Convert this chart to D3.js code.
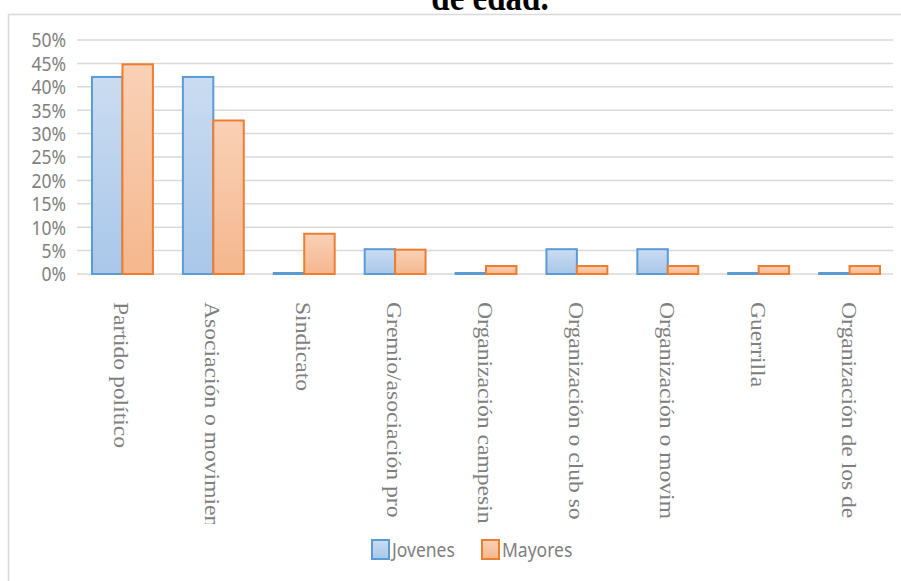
<!DOCTYPE html>
<html>
<head>
<meta charset="utf-8">
<script src="https://cdn.jsdelivr.net/npm/d3@7"></script>
<style>
	body { margin: 0; background: #fff; }
	svg { display: block; }
</style>
</head>
<body>
<div id="chart"></div>
<script>
const WIDTH = 901;
const HEIGHT = 581;
const PLOT = {left: 77, right: 893, top: 40, bottom: 274};
const STRETCH = 1.18; // the source picture is stretched vertically

// category labels are truncated in the source, kept as shown
const categories = [
	'Partido político',
	'Asociación o movimien',
	'Sindicato',
	'Gremio/asociación pro',
	'Organización campesin',
	'Organización o club so',
	'Organización o movim',
	'Guerrilla',
	'Organización de los de'
];
const jovenes = [0.421, 0.421, 0, 0.053, 0, 0.053, 0.053, 0, 0];
const mayores = [0.448, 0.328, 0.086, 0.052, 0.017, 0.017, 0.017, 0.017, 0.017];
const yTicks = [0, 0.05, 0.1, 0.15, 0.2, 0.25, 0.3, 0.35, 0.4, 0.45, 0.5];
const seriesNames = ['Jovenes', 'Mayores'];
const title = 'de edad.';

const series = [
	{name: seriesNames[0], values: jovenes, stroke: '#5b9bd5', top: '#cadcf1', bottom: '#a9c7ea'},
	{name: seriesNames[1], values: mayores, stroke: '#ed7d31', top: '#f9d1b6', bottom: '#f5b78e'}
];

const svg = d3.select('#chart').append('svg')
	.attr('width', WIDTH)
	.attr('height', HEIGHT);

// gradients for the bar fills
const defs = svg.append('defs');
series.forEach((s, i) => {
	let g = defs.append('linearGradient')
		.attr('id', `grad${i}`)
		.attr('x1', 0).attr('y1', 0).attr('x2', 0).attr('y2', 1);
	g.append('stop').attr('offset', '0%').attr('stop-color', s.top);
	g.append('stop').attr('offset', '100%').attr('stop-color', s.bottom);
});
defs.append('clipPath').attr('id', 'labelClip')
	.append('rect')
	.attr('x', 0).attr('y', 290)
	.attr('width', WIDTH).attr('height', 234);

// chart frame
svg.append('rect')
	.attr('x', 8.5).attr('y', 14.5)
	.attr('width', 900).attr('height', 580)
	.attr('fill', 'none')
	.attr('stroke', '#d9d9d9')
	.attr('stroke-width', 1.5);

// title (cut off at the top of the picture)
svg.append('text')
	.attr('transform', `translate(490, 10) scale(1, ${STRETCH})`)
	.attr('text-anchor', 'middle')
	.attr('font-family', 'Liberation Serif')
	.attr('font-weight', 'bold')
	.attr('font-size', 33)
	.attr('fill', '#000')
	.text(title);

const xScale = d3.scaleBand()
	.domain(categories)
	.range([PLOT.left, PLOT.right + 2])
	.paddingInner(0.33)
	.paddingOuter(0.165);

const xInner = d3.scaleBand()
	.domain(seriesNames)
	.range([0, xScale.bandwidth()]);

const yScale = d3.scaleLinear()
	.domain([0, 0.5])
	.range([PLOT.bottom, PLOT.top]);

// grid lines
svg.append('g').selectAll('line')
	.data(yTicks)
	.join('line')
	.attr('x1', PLOT.left).attr('x2', PLOT.right)
	.attr('y1', d => yScale(d)).attr('y2', d => yScale(d))
	.attr('stroke', '#d9d9d9')
	.attr('stroke-width', 1.5);

// y axis labels
svg.append('g').selectAll('text')
	.data(yTicks)
	.join('text')
	.attr('transform', d => `translate(66, ${yScale(d)}) scale(1, ${STRETCH})`)
	.attr('text-anchor', 'end')
	.attr('dy', '0.36em')
	.attr('font-family', 'Noto Sans')
	.attr('font-size', 17.5)
	.attr('fill', '#808080')
	.text(d3.format('.0%'));

// bars
series.forEach((s, i) => {
	svg.append('g').selectAll('rect')
		.data(s.values)
		.join('rect')
		.attr('x', (d, j) => xScale(categories[j]) + xInner(s.name))
		.attr('y', d => Math.min(yScale(d), PLOT.bottom - 1))
		.attr('width', xInner.bandwidth())
		.attr('height', d => Math.max(PLOT.bottom - yScale(d), 1))
		.attr('fill', `url(#grad${i})`)
		.attr('stroke', s.stroke)
		.attr('stroke-width', 2);
});

// rotated category labels
svg.append('g')
	.attr('clip-path', 'url(#labelClip)')
	.selectAll('text')
	.data(categories)
	.join('text')
	.attr('transform', d => `translate(${xScale(d) + xScale.bandwidth() / 2 - 8}, 302) scale(1, ${STRETCH}) rotate(90)`)
	.attr('font-family', 'Liberation Serif')
	.attr('font-size', 20)
	.attr('fill', '#7f7f7f')
	.text(d => d);

// legend
const legend = svg.append('g');
const legendX = [372, 482];
series.forEach((s, i) => {
	legend.append('rect')
		.attr('x', legendX[i]).attr('y', 540)
		.attr('width', 17).attr('height', 19)
		.attr('fill', `url(#grad${i})`)
		.attr('stroke', s.stroke)
		.attr('stroke-width', 2);
	legend.append('text')
		.attr('transform', `translate(${legendX[i] + 20}, 557) scale(1, ${STRETCH})`)
		.attr('font-family', 'Noto Sans')
		.attr('font-size', 17.5)
		.attr('fill', '#808080')
		.text(s.name);
});
</script>
</body>
</html>
